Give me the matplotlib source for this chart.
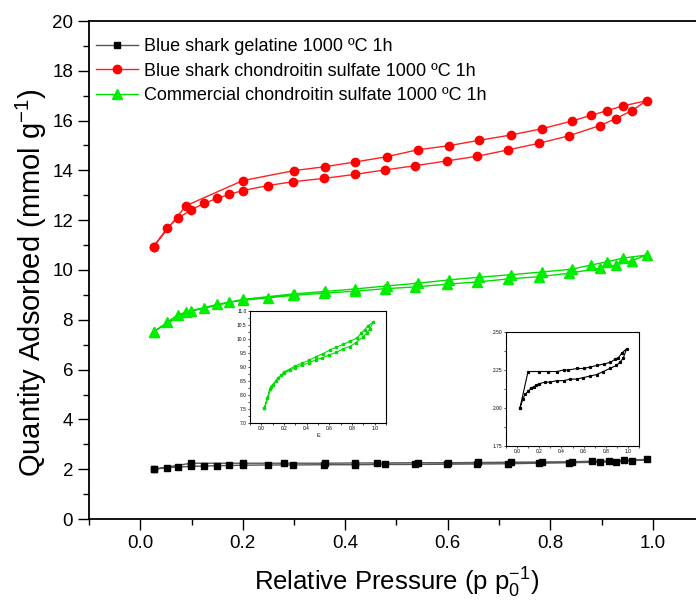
import matplotlib.pyplot as plt
from matplotlib.ticker import MultipleLocator

plt.rcParams['font.family'] = ['Liberation Sans', 'DejaVu Sans']
plt.rcParams['mathtext.fontset'] = 'custom'
plt.rcParams['mathtext.rm'] = 'Liberation Sans'

# Adsorption branch pressures (shared) and desorption pressures
p_ads = [0.026, 0.053, 0.073, 0.0996, 0.125, 0.150, 0.174, 0.200, 0.249, 0.299,
         0.359, 0.419, 0.478, 0.537, 0.598, 0.658, 0.717, 0.778, 0.8365, 0.8965,
         0.928, 0.959, 0.988]
p_des = [0.942, 0.911, 0.8795, 0.842, 0.783, 0.723, 0.6615, 0.6016, 0.542, 0.481,
         0.420, 0.361, 0.2995, 0.200, 0.089]
p_des_gel = [0.944, 0.914, 0.882, 0.842, 0.783, 0.723, 0.660, 0.600, 0.542, 0.462,
             0.420, 0.360, 0.281, 0.200, 0.099]

# Blue shark gelatine
gel_ads = [2.00, 2.06, 2.09, 2.11, 2.13, 2.14, 2.15, 2.16, 2.17, 2.17, 2.18, 2.18,
           2.19, 2.19, 2.20, 2.21, 2.22, 2.24, 2.26, 2.28, 2.30, 2.33, 2.39]
gel_des = [2.36, 2.33, 2.32, 2.30, 2.29, 2.28, 2.27, 2.26, 2.26, 2.25, 2.25, 2.24,
           2.24, 2.24, 2.24]

# Blue shark chondroitin sulfate
bcs_ads = [10.94, 11.70, 12.07, 12.42, 12.68, 12.88, 13.04, 13.19, 13.39, 13.55,
           13.68, 13.84, 14.02, 14.19, 14.38, 14.57, 14.82, 15.09, 15.39, 15.80,
           16.08, 16.40, 16.80]
bcs_des = [16.59, 16.40, 16.21, 15.98, 15.67, 15.42, 15.21, 14.99, 14.83, 14.55,
           14.34, 14.15, 13.99, 13.59, 12.58]

# Commercial chondroitin sulfate
ccs_ads = [7.52, 7.90, 8.20, 8.37, 8.49, 8.62, 8.71, 8.78, 8.88, 8.98, 9.07, 9.15,
           9.25, 9.32, 9.43, 9.52, 9.64, 9.73, 9.87, 10.07, 10.20, 10.37, 10.60]
ccs_des = [10.48, 10.33, 10.20, 10.03, 9.92, 9.81, 9.71, 9.60, 9.47, 9.36, 9.24,
           9.14, 9.04, 8.82, 8.30]

labels = ['Blue shark gelatine 1000 ºC 1h',
          'Blue shark chondroitin sulfate 1000 ºC 1h',
          'Commercial chondroitin sulfate 1000 ºC 1h']


def loop(pa, ya, pd, yd):
    # adsorption up, desorption back down, closed to the first point
    return list(pa) + list(pd) + [pa[0]], list(ya) + list(yd) + [ya[0]]


gx, gy = loop(p_ads, gel_ads, p_des_gel, gel_des)
bx, by = loop(p_ads, bcs_ads, p_des, bcs_des)
cx, cy = loop(p_ads, ccs_ads, p_des, ccs_des)

fig = plt.figure(figsize=(6.96, 6.01), dpi=100)
ax = fig.add_axes([89 / 696, 82 / 601, 615 / 696, 498 / 601])

ax.plot(gx, gy, color='#555555', lw=1.0, marker='s', ms=5, mfc='black', mec='black', label=labels[0])
ax.plot(bx, by, color='#ff2020', lw=1.0, marker='o', ms=6, mfc='red', mec='red', label=labels[1])
ax.plot(cx, cy, color='#00dd00', lw=1.0, marker='^', ms=6.5, mfc='#00ee00', mec='#00ee00', label=labels[2])

ax.set_xlim(-0.1, 1.1)
ax.set_ylim(0, 20)
ax.xaxis.set_major_locator(MultipleLocator(0.2))
ax.xaxis.set_minor_locator(MultipleLocator(0.1))
ax.yaxis.set_major_locator(MultipleLocator(2))
ax.yaxis.set_minor_locator(MultipleLocator(1))
ax.set_xticks([0.0, 0.2, 0.4, 0.6, 0.8, 1.0])
ax.tick_params(which='major', direction='out', length=8, width=1.0, labelsize=13.5)
ax.tick_params(which='minor', direction='out', length=4, width=1.0)
for s in ax.spines.values():
    s.set_linewidth(1.3)

ax.set_xlabel(r'Relative Pressure (p p$\mathregular{_0^{-1}}$)', fontsize=18.5, labelpad=10)
ax.set_ylabel(r'Quantity Adsorbed (mmol g$\mathregular{^{-1}}$)', fontsize=21)
ax.yaxis.set_label_coords(-0.065, 0.474)

ax.legend(loc='upper left', frameon=False, fontsize=13, handlelength=2.3,
          handletextpad=0.35, labelspacing=0.42, borderaxespad=0.0,
          bbox_to_anchor=(0.0, 0.98))

# Inset: commercial chondroitin sulfate
ins1 = fig.add_axes([250 / 696, 178 / 601, 136 / 696, 112 / 601])
ins1.plot(cx, cy, color='#00dd00', lw=0.8, marker='s', ms=1.5)
ins1.set_xlim(-0.1, 1.1)
ins1.set_ylim(7.0, 11.0)
ins1.xaxis.set_major_locator(MultipleLocator(0.2))
ins1.xaxis.set_minor_locator(MultipleLocator(0.1))
ins1.yaxis.set_major_locator(MultipleLocator(0.5))
ins1.yaxis.set_minor_locator(MultipleLocator(0.25))
ins1.set_xticks([0.0, 0.2, 0.4, 0.6, 0.8, 1.0])
ins1.tick_params(which='both', direction='out', length=1.5, width=0.5, labelsize=3.5, pad=1)
ins1.set_xlabel('E', fontsize=4, labelpad=1)

# Inset: blue shark gelatine
ins2 = fig.add_axes([506 / 696, 155 / 601, 133 / 696, 114 / 601])
ins2.plot(gx, gy, color='black', lw=0.8, marker='s', ms=1.3)
ins2.set_xlim(-0.1, 1.1)
ins2.set_ylim(1.75, 2.5)
ins2.xaxis.set_major_locator(MultipleLocator(0.2))
ins2.xaxis.set_minor_locator(MultipleLocator(0.1))
ins2.yaxis.set_major_locator(MultipleLocator(0.25))
ins2.yaxis.set_minor_locator(MultipleLocator(0.125))
ins2.set_xticks([0.0, 0.2, 0.4, 0.6, 0.8, 1.0])
ins2.set_yticks([1.75, 2.00, 2.25, 2.50])
ins2.set_yticklabels(['1.75', '2.00', '2.25', '2.50'])
ins2.tick_params(which='both', direction='out', length=1.5, width=0.5, labelsize=3.5, pad=1)

for a in (ins1, ins2):
    for s in a.spines.values():
        s.set_linewidth(0.8)

fig.savefig('out.png', dpi=100)
